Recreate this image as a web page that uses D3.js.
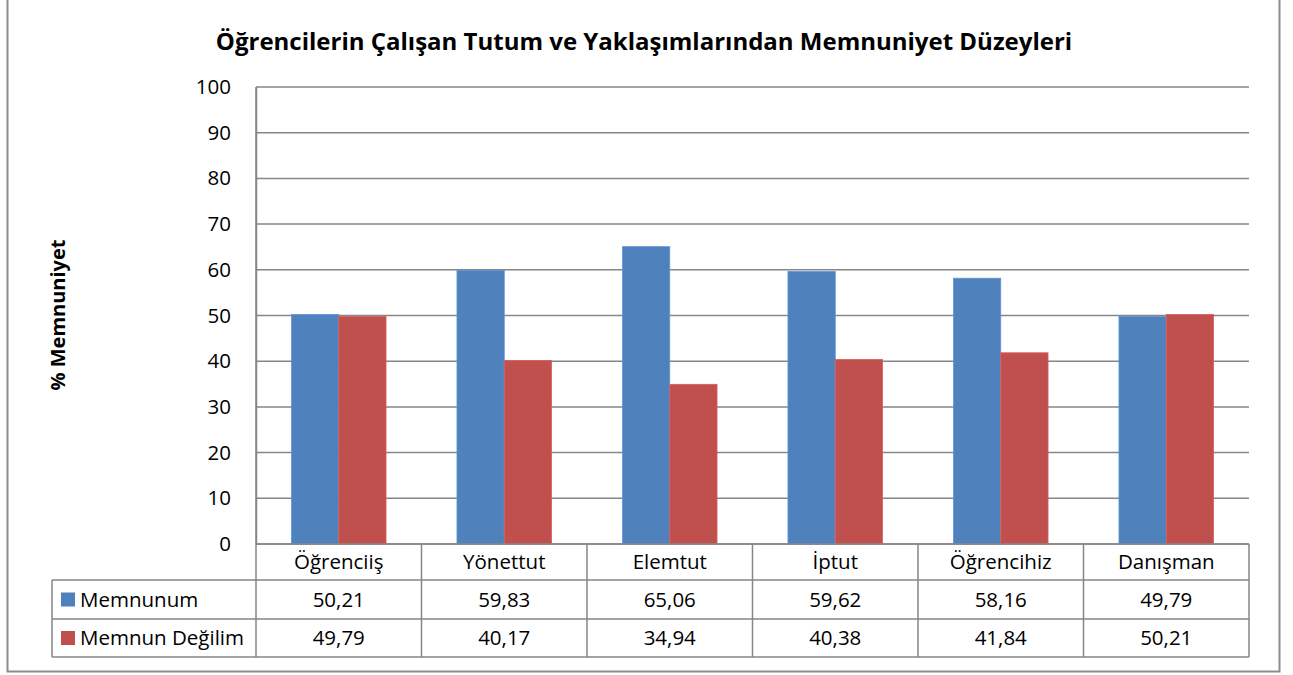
<!DOCTYPE html>
<html><head><meta charset="utf-8">
<script src="https://cdn.jsdelivr.net/npm/d3@7"></script>
<style>body{margin:0;background:#fff}svg{display:block}text{font-family:"Open Sans",sans-serif;fill:#000}</style>
</head><body><svg id="c" width="1293" height="675"></svg>
<script>
const categories = ["Öğrenciiş","Yönettut","Elemtut","İptut","Öğrencihiz","Danışman"];
const seriesNames = ["Memnunum","Memnun Değilim"];
const memnunum = [50.21,59.83,65.06,59.62,58.16,49.79];
const memnunDegilim = [49.79,40.17,34.94,40.38,41.84,50.21];
const yTicks = [0,10,20,30,40,50,60,70,80,90,100];
const colors = ["#4F81BD","#C0504D"];
const title = "Öğrencilerin Çalışan Tutum ve Yaklaşımlarından Memnuniyet Düzeyleri";
const yTitle = "% Memnuniyet";

const series = [memnunum, memnunDegilim];
const svg = d3.select("#c");
const L=256, R=1249, T=87, B=544;
const grid="#868686";
const FS=20.5;

svg.append("rect").attr("x",7.5).attr("y",-2).attr("width",1272).attr("height",673.5)
  .attr("fill","#fff").attr("stroke","#8c8c8c").attr("stroke-width",2);

const x = d3.scaleBand().domain(categories).range([L,R]).paddingInner(0).paddingOuter(0);
const inner = d3.scaleBand().domain([0,1]).range([0,x.bandwidth()]).paddingInner(0).paddingOuter(0.75);
const y = d3.scaleLinear().domain([0,100]).range([B,T]);

svg.append("g").selectAll("line").data(yTicks).join("line")
  .attr("x1",L).attr("x2",R).attr("y1",d=>y(d)).attr("y2",d=>y(d))
  .attr("stroke",grid).attr("stroke-width",1.5);

const ya = svg.append("g").attr("transform",`translate(${L},0)`)
  .call(d3.axisLeft(y).tickValues(yTicks).tickSize(0).tickPadding(25));
ya.select(".domain").attr("stroke",grid).attr("stroke-width",1.5);
ya.selectAll("text").attr("font-size",FS).attr("font-family","Open Sans").attr("fill","#000");

series.forEach((s,i)=>{
  svg.append("g").selectAll("rect").data(s).join("rect")
    .attr("x",(d,j)=>x(categories[j])+inner(i))
    .attr("y",d=>y(d)).attr("width",inner.bandwidth()).attr("height",d=>y(0)-y(d))
    .attr("fill",colors[i]).attr("stroke",d3.color(colors[i]).brighter(0.4)).attr("stroke-width",0.8);
});

const rows=[B,580,619,657];
const tl=52;
const tg=svg.append("g").attr("stroke",grid).attr("stroke-width",1.5);
tg.append("line").attr("x1",L).attr("x2",R).attr("y1",B).attr("y2",B);
[1,2,3].forEach(k=>tg.append("line").attr("x1",tl).attr("x2",R).attr("y1",rows[k]).attr("y2",rows[k]));
tg.append("line").attr("x1",tl).attr("x2",tl).attr("y1",rows[1]).attr("y2",rows[3]);
const vx = categories.map(c=>x(c)).concat([R]);
tg.selectAll(".v").data(vx).join("line").attr("x1",d=>d).attr("x2",d=>d)
  .attr("y1",(d,i)=>i==0?T:B).attr("y2",rows[3]);

svg.append("g").selectAll("text").data(categories).join("text")
  .attr("x",d=>x(d)+x.bandwidth()/2).attr("y",(rows[0]+rows[1])/2).attr("dy","0.35em")
  .attr("text-anchor","middle").attr("font-size",FS).text(d=>d);

const fmt = v=>d3.format(".2f")(v).replace(".",",");
series.forEach((s,i)=>{
  const cy=(rows[i+1]+rows[i+2])/2;
  svg.append("g").selectAll("text").data(s).join("text")
    .attr("x",(d,j)=>x(categories[j])+x.bandwidth()/2).attr("y",cy).attr("dy","0.35em")
    .attr("text-anchor","middle").attr("font-size",FS).text(fmt);
  svg.append("rect").attr("x",61).attr("y",cy-7).attr("width",14).attr("height",14).attr("fill",colors[i]);
  svg.append("text").attr("x",80).attr("y",cy).attr("dy","0.35em").attr("font-size",FS).text(seriesNames[i]);
});

svg.append("text").attr("x",644).attr("y",42).attr("dy","0.35em").attr("text-anchor","middle")
  .attr("font-size",24).attr("font-weight","bold").text(title);
svg.append("text").attr("transform","translate(58,315) rotate(-90)").attr("dy","0.35em")
  .attr("text-anchor","middle").attr("font-size",20).attr("font-weight","bold").text(yTitle);
</script></body></html>
